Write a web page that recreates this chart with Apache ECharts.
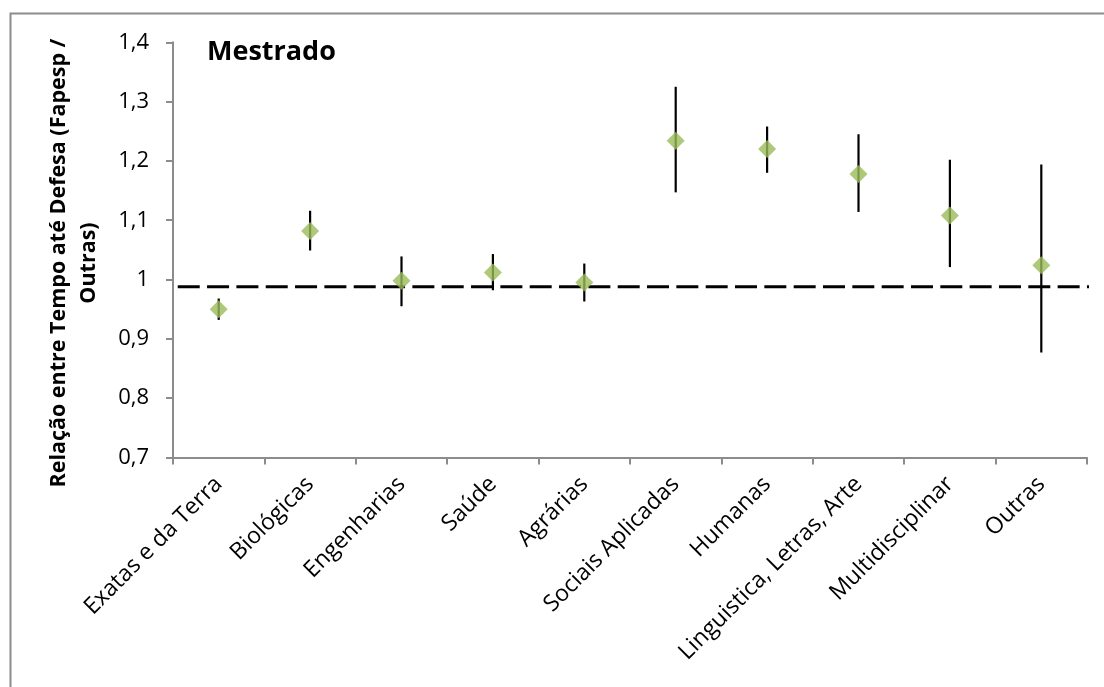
<!DOCTYPE html>
<html><head><meta charset="utf-8">
<script src="https://cdn.jsdelivr.net/npm/echarts@6/dist/echarts.min.js"></script>
<style>html,body{margin:0;padding:0;background:#fff}#c{width:1104px;height:687px}</style>
</head><body><div id="c"></div>
<script>
const chartTitle = 'Mestrado';
const yAxisTitle = 'Relação entre Tempo até Defesa (Fapesp /\nOutras)';
const categories = ['Exatas e da Terra', 'Biológicas', 'Engenharias', 'Saúde', 'Agrárias',
  'Sociais Aplicadas', 'Humanas', 'Linguistica, Letras, Arte', 'Multidisciplinar', 'Outras'];
const ratio   = [0.950, 1.082, 0.998, 1.012, 0.995, 1.234, 1.220, 1.178, 1.108, 1.024];
const errLow  = [0.932, 1.049, 0.955, 0.982, 0.963, 1.147, 1.180, 1.114, 1.021, 0.877];
const errHigh = [0.968, 1.116, 1.039, 1.043, 1.027, 1.325, 1.258, 1.245, 1.202, 1.194];
const referenceValue = 0.988;
const referenceSpan = [-0.59, 10.2];
const yTicks = [0.7, 0.8, 0.9, 1.0, 1.1, 1.2, 1.3, 1.4];
const yTickLabels = ['0,7', '0,8', '0,9', '1', '1,1', '1,2', '1,3', '1,4'];

const FONT = '"Open Sans", "Noto Sans", sans-serif';
const chart = echarts.init(document.getElementById('c'), null, {renderer: 'canvas'});

const errData = categories.map((c, i) => [i, errLow[i], errHigh[i]]);
const refData = referenceSpan.map(x => [x, referenceValue]);

chart.setOption({
  animation: false,
  backgroundColor: '#fff',
  title: {
    text: chartTitle, left: 202, top: 34,
    textStyle: {fontFamily: FONT, fontWeight: 'bold', fontSize: 27, color: '#000'}
  },
  graphic: [
    {type: 'rect', left: 8, top: 11, silent: true, z: -1,
      shape: {width: 1200, height: 800},
      style: {fill: 'none', stroke: '#8c8c8c', lineWidth: 2}},
    {type: 'text', x: 74, y: 263, rotation: Math.PI / 2,
      style: {text: yAxisTitle, fontFamily: FONT, fontWeight: 'bold', fontSize: 21.5,
        lineHeight: 30, fill: '#000', align: 'center', verticalAlign: 'middle'}}
  ],
  grid: {left: 173, top: 42.3, right: 17, bottom: 229.5, containLabel: false},
  xAxis: [
    {type: 'category', data: categories, boundaryGap: true,
      axisLine: {lineStyle: {color: '#8c8c8c', width: 2}},
      axisTick: {show: true, length: 7, lineStyle: {color: '#8c8c8c', width: 2}},
      axisLabel: {rotate: 45, margin: 23, fontFamily: FONT, fontSize: 23, color: '#000', interval: 0},
      splitLine: {show: false}},
    {type: 'value', min: 0, max: 10, show: false}
  ],
  yAxis: {
    type: 'value', min: 0.7, max: 1.4, interval: 0.1,
    axisLine: {show: true, lineStyle: {color: '#8c8c8c', width: 2}},
    axisTick: {show: true, length: 7, lineStyle: {color: '#8c8c8c', width: 2}},
    splitLine: {show: false},
    axisLabel: {
      margin: 24, fontFamily: FONT, fontSize: 22, color: '#000',
      formatter: v => {
        const idx = yTicks.findIndex(t => Math.abs(t - v) < 1e-6);
        return idx >= 0 ? yTickLabels[idx] : '';
      }
    }
  },
  series: [
    {
      type: 'custom', xAxisIndex: 0, yAxisIndex: 0, z: 2, data: errData,
      renderItem: (params, api) => {
        const lo = api.coord([api.value(0), api.value(1)]);
        const hi = api.coord([api.value(0), api.value(2)]);
        return {type: 'line', shape: {x1: lo[0], y1: lo[1], x2: hi[0], y2: hi[1]},
          style: {stroke: '#000', lineWidth: 2.2}};
      }
    },
    {
      type: 'line', xAxisIndex: 1, yAxisIndex: 0, data: refData, clip: false, z: 3,
      symbol: 'none', silent: true,
      lineStyle: {color: '#000', width: 3, type: [22, 7.33], cap: 'butt'}
    },
    {
      type: 'scatter', xAxisIndex: 0, yAxisIndex: 0, data: ratio, z: 4,
      symbol: 'diamond', symbolSize: 18,
      itemStyle: {color: '#9BBB59'}
    }
  ]
});
</script></body></html>
